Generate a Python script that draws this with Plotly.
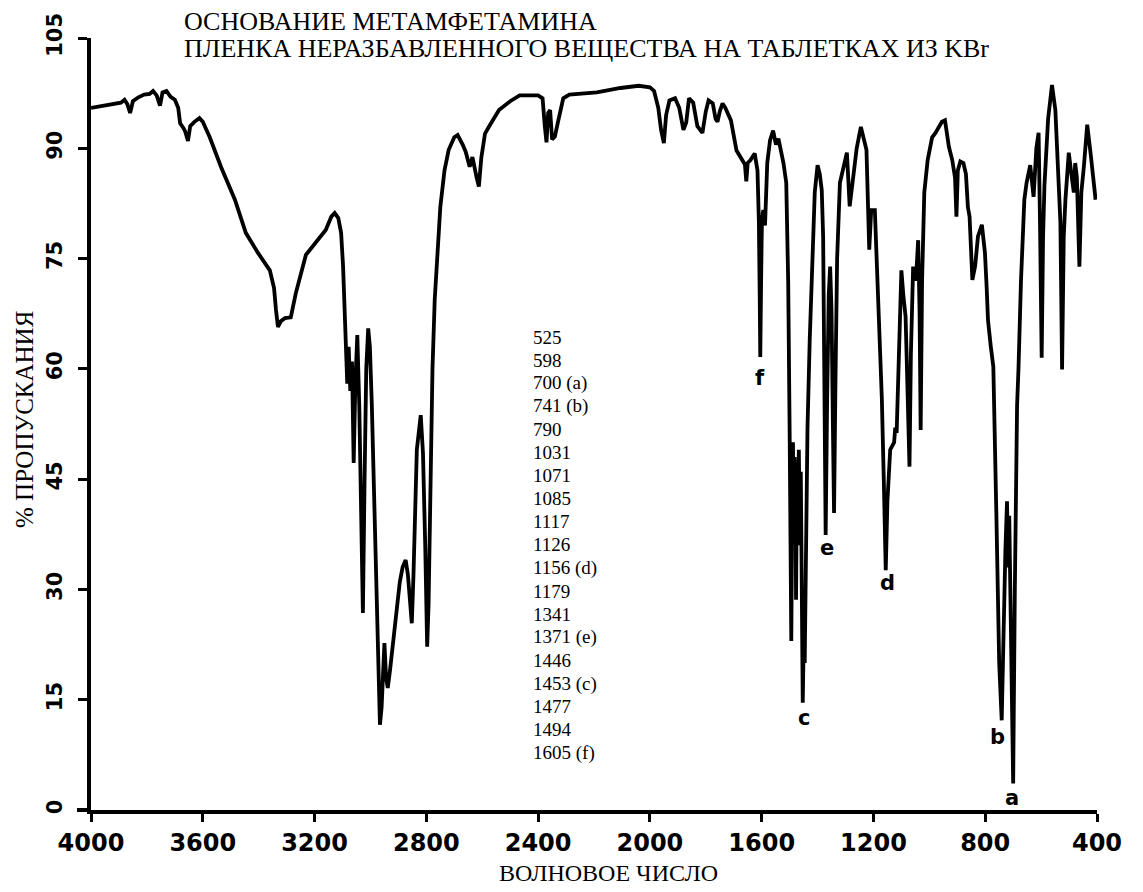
import plotly.graph_objects as go

# ---------------- data ----------------
wavenumber = [
    4000, 3960, 3920, 3893, 3880, 3870, 3860, 3850, 3832, 3810, 3790, 3778, 3765, 3753, 3744, 3730,
    3715, 3700, 3688, 3681, 3670, 3663, 3653, 3645, 3630, 3612, 3600, 3575, 3535, 3485, 3446, 3403,
    3360, 3345, 3338, 3331, 3320, 3306, 3285, 3267, 3231, 3188, 3160, 3140, 3128, 3115, 3105, 3098,
    3093, 3088, 3083, 3078, 3072, 3066, 3060, 3054, 3047, 3040, 3033, 3027, 3021, 3015, 3008, 3002,
    2995, 2988, 2980, 2972, 2966, 2960, 2955, 2950, 2944, 2938, 2930, 2921, 2910, 2895, 2885, 2874,
    2866, 2858, 2852, 2846, 2840, 2834, 2820, 2812, 2804, 2797, 2792, 2786, 2778, 2770, 2760, 2750,
    2735, 2720, 2700, 2688, 2670, 2659, 2645, 2635, 2620, 2612, 2603, 2590, 2575, 2540, 2500, 2466,
    2400, 2384, 2376, 2370, 2364, 2357, 2350, 2340, 2330, 2310, 2288, 2190, 2105, 2040, 2000, 1985,
    1970, 1960, 1950, 1942, 1930, 1910, 1895, 1880, 1870, 1860, 1845, 1830, 1812, 1800, 1790, 1775,
    1765, 1758, 1750, 1740, 1730, 1710, 1690, 1670, 1660, 1655, 1650, 1640, 1625, 1615, 1610, 1607,
    1605, 1602, 1599, 1594, 1588, 1580, 1570, 1559, 1549, 1540, 1530, 1522, 1512, 1505, 1500, 1497,
    1494, 1491, 1488, 1485, 1482, 1479, 1477, 1474, 1470, 1467, 1463, 1460, 1457, 1455, 1453, 1450,
    1448, 1446, 1442, 1436, 1428, 1420, 1410, 1400, 1392, 1385, 1380, 1376, 1371, 1366, 1360, 1355,
    1350, 1345, 1341, 1336, 1330, 1320, 1305, 1295, 1285, 1275, 1260, 1245, 1235, 1225, 1215, 1208,
    1195, 1185, 1179, 1170, 1163, 1156, 1150, 1140, 1126, 1122, 1117, 1110, 1100, 1093, 1085, 1080,
    1075, 1071, 1066, 1058, 1048, 1040, 1035, 1031, 1026, 1018, 1006, 990, 978, 955, 944, 930,
    918, 908, 903, 898, 889, 878, 869, 862, 856, 846, 836, 826, 812, 801, 795, 790,
    780, 771, 760, 750, 741, 735, 728, 722, 718, 714, 708, 700, 694, 686, 681, 672,
    660, 652, 639, 627, 617, 609, 604, 598, 593, 588, 575, 561, 549, 540, 531, 525,
    519, 513, 501, 490, 483, 478, 472, 463, 456, 447, 435, 422, 412, 405,
]
transmittance = [
    95.5, 95.8, 96.0, 96.2, 96.6, 96.0, 94.8, 96.4, 96.9, 97.3, 97.4, 97.8, 97.2, 95.8, 97.6, 97.8,
    97.0, 96.6, 95.5, 93.4, 92.8, 92.3, 91.0, 93.0, 93.6, 94.1, 93.6, 91.5, 87.5, 83.0, 78.5, 75.8,
    73.4, 71.0, 68.0, 65.7, 66.5, 66.9, 67.0, 70.3, 75.5, 77.5, 78.9, 80.7, 81.2, 80.5, 78.5, 74.0,
    69.4, 63.0, 58.0, 63.0, 57.0, 61.0, 47.2, 58.0, 64.6, 55.0, 40.0, 26.8, 45.0, 60.0, 65.5, 63.0,
    55.0, 45.0, 30.0, 18.0, 11.6, 14.0, 19.0, 22.7, 18.0, 16.6, 19.0, 22.0, 26.2, 31.0, 33.0, 34.0,
    32.0, 28.0, 25.4, 32.0, 42.0, 49.0, 53.7, 48.5, 36.0, 22.2, 28.0, 42.2, 60.0, 69.4, 76.0, 82.0,
    87.0, 89.8, 91.5, 91.8, 90.5, 89.5, 87.5, 88.8, 86.0, 84.8, 88.8, 92.0, 93.0, 95.2, 96.4, 97.2,
    97.2, 96.8, 93.0, 90.8, 94.8, 95.2, 91.2, 91.6, 93.4, 96.8, 97.3, 97.6, 98.2, 98.5, 98.3, 97.8,
    95.5, 92.5, 90.7, 94.5, 96.5, 96.8, 95.5, 92.5, 93.5, 96.8, 96.2, 93.0, 92.1, 95.0, 96.5, 96.1,
    94.0, 93.6, 95.0, 96.1, 95.5, 93.8, 89.7, 88.4, 87.8, 85.5, 88.0, 88.4, 89.3, 87.0, 80.0, 70.0,
    61.6, 72.0, 80.5, 81.6, 79.5, 88.0, 91.1, 92.4, 90.5, 91.3, 89.5, 88.0, 85.3, 71.7, 52.0, 35.0,
    23.0, 40.0, 50.0, 38.0, 48.0, 45.0, 28.6, 44.0, 40.0, 49.0, 36.0, 46.0, 30.0, 22.0, 14.6, 22.0,
    27.0, 20.0, 35.0, 52.0, 64.0, 74.4, 84.0, 87.7, 86.5, 84.3, 78.0, 60.0, 37.4, 55.0, 70.0, 73.9,
    68.0, 52.0, 40.4, 58.0, 75.0, 85.3, 88.0, 89.4, 82.1, 85.3, 90.0, 92.9, 91.5, 89.8, 76.2, 81.6,
    81.6, 72.0, 67.1, 56.0, 45.0, 32.6, 42.0, 49.0, 50.0, 52.0, 51.3, 62.0, 73.4, 70.0, 67.1, 60.0,
    52.0, 46.7, 62.0, 73.9, 72.0, 77.5, 68.0, 51.7, 72.0, 84.0, 88.4, 91.5, 92.1, 93.6, 93.8, 90.2,
    88.4, 86.0, 80.7, 87.0, 88.2, 88.0, 86.5, 82.0, 80.7, 72.1, 74.0, 78.0, 79.6, 75.8, 71.2, 66.6,
    63.0, 60.3, 40.0, 20.0, 12.2, 25.0, 35.0, 42.0, 33.0, 40.0, 25.0, 3.6, 30.0, 55.0, 60.0, 72.0,
    83.0, 85.3, 87.7, 83.4, 90.0, 92.1, 80.0, 61.5, 78.0, 85.0, 94.0, 98.6, 95.2, 88.0, 80.0, 59.9,
    78.0, 83.0, 89.4, 86.0, 84.0, 88.0, 86.0, 73.9, 84.0, 87.5, 93.2, 89.0, 85.5, 83.0,
]

x_tick_values = [4000, 3600, 3200, 2800, 2400, 2000, 1600, 1200, 800, 400]
x_tick_labels = ["4000", "3600", "3200", "2800", "2400", "2000", "1600", "1200", "800", "400"]
y_tick_values = [0, 15, 30, 45, 60, 75, 90, 105]
y_tick_labels = ["0", "15", "30", "45", "60", "75", "90", "105"]

title_lines = ["ОСНОВАНИЕ МЕТАМФЕТАМИНА",
               "ПЛЕНКА НЕРАЗБАВЛЕННОГО ВЕЩЕСТВА НА ТАБЛЕТКАХ ИЗ KBr"]
peak_list = ["525", "598", "700 (a)", "741 (b)", "790", "1031", "1071", "1085", "1117",
             "1126", "1156 (d)", "1179", "1341", "1371 (e)", "1446", "1453 (c)", "1477",
             "1494", "1605 (f)"]
peak_letters = ["f", "e", "d", "c", "b", "a"]
letter_wavenumbers = [1605, 1366, 1150, 1450, 755, 704]
letter_levels = [58.8, 35.6, 30.9, 12.5, 9.9, 1.6]

x_title = "ВОЛНОВОЕ ЧИСЛО"
y_title = "% ПРОПУСКАНИЯ"

# ---------------- layout geometry ----------------
W, H = 1143, 892
L, R, T, B = 91, 46, 38, 82
PW, PH = W - L - R, H - T - B


def px(x):
    return (x - L) / PW


def py(y):
    return (H - B - y) / PH


serif = "Liberation Serif"
sans = "DejaVu Sans"

fig = go.Figure()
fig.add_trace(go.Scatter(
    x=wavenumber, y=transmittance, mode="lines",
    line=dict(color="black", width=3.8), showlegend=False, hoverinfo="x+y",
))

annotations = []
for i, line in enumerate(title_lines):
    annotations.append(dict(text=line, x=px(182), y=py(22 + 26 * i), xref="paper", yref="paper",
                            xanchor="left", yanchor="middle", showarrow=False,
                            font=dict(family=serif, size=26, color="black")))
for i, line in enumerate(peak_list):
    annotations.append(dict(text=line, x=px(531), y=py(337 + 23.1 * i), xref="paper", yref="paper",
                            xanchor="left", yanchor="middle", showarrow=False,
                            font=dict(family=serif, size=19, color="black")))
for letter, wn, lev in zip(peak_letters, letter_wavenumbers, letter_levels):
    annotations.append(dict(text=letter, x=wn, y=lev, xref="x", yref="y",
                            xanchor="center", yanchor="middle", showarrow=False,
                            font=dict(family=sans, size=21, color="black", weight="bold")))
annotations.append(dict(text=x_title, x=px(497), y=py(873), xref="paper", yref="paper",
                        xanchor="left", yanchor="middle", showarrow=False,
                        font=dict(family=serif, size=24, color="black")))
annotations.append(dict(text=y_title, x=px(24), y=py(420), xref="paper", yref="paper",
                        xanchor="center", yanchor="middle", showarrow=False, textangle=-90,
                        font=dict(family=serif, size=25, color="black")))

fig.update_layout(
    width=W, height=H, autosize=False,
    margin=dict(l=L, r=R, t=T, b=B, pad=0),
    paper_bgcolor="white", plot_bgcolor="white",
    annotations=annotations,
    shapes=[dict(type="line", xref="paper", yref="paper", x0=px(77), x1=0, y0=0, y1=0,
                 line=dict(color="black", width=4))],
    xaxis=dict(range=[4000, 400], tickvals=x_tick_values, ticktext=x_tick_labels,
               showline=True, linecolor="black", linewidth=4, ticks="outside", ticklen=8,
               tickwidth=3, tickcolor="black", showgrid=False, zeroline=False,
               tickfont=dict(family=sans, size=24, color="black", weight="bold")),
    yaxis=dict(range=[0, 105], tickvals=y_tick_values, ticktext=y_tick_labels,
               showline=True, linecolor="black", linewidth=4, ticks="outside", ticklen=9,
               tickwidth=3, tickcolor="black", showgrid=False, zeroline=False, tickangle=-90,
               ticklabelstandoff=8,
               tickfont=dict(family=sans, size=21, color="black", weight="bold")),
)

fig.write_html("out.html")
